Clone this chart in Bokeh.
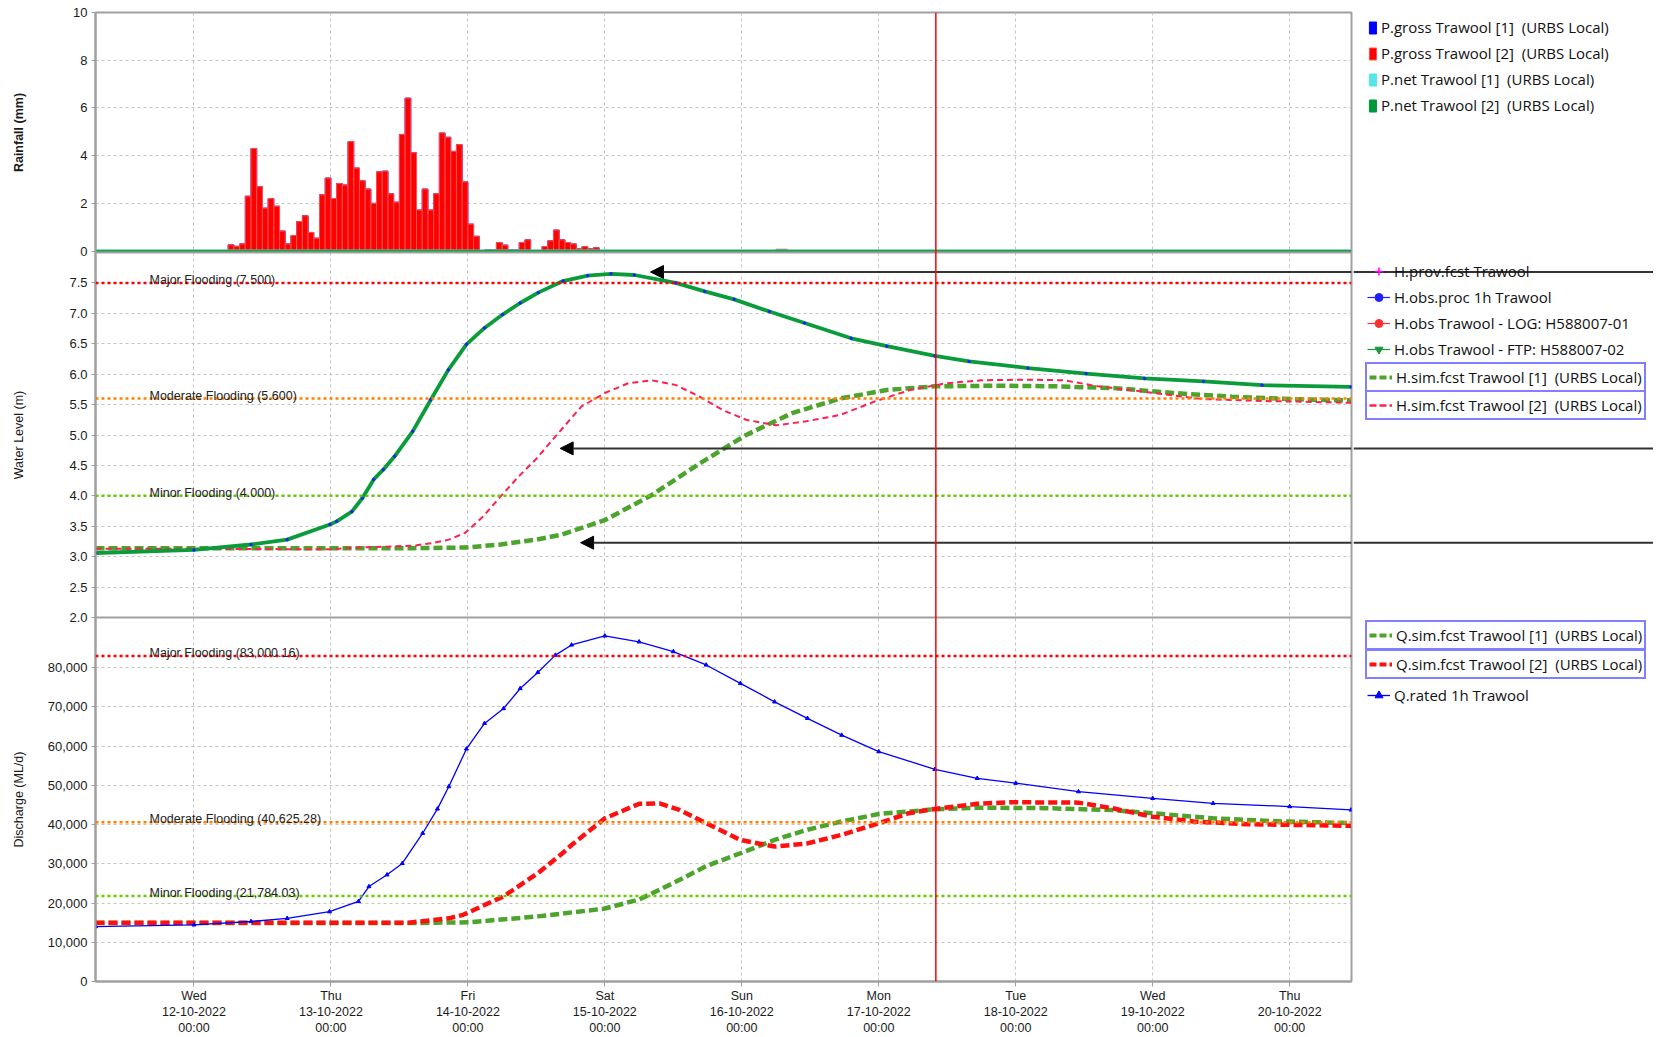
import math
import pandas as pd
from bokeh.plotting import figure
from bokeh.core.properties import value
from bokeh.models import (ColumnDataSource, Range1d, FixedTicker, Span, Label, Legend, LegendItem,
                          Arrow, NormalHead)
from bokeh.layouts import row
from bokeh.embed import file_html
from bokeh.resources import INLINE

# ---------------------------------------------------------------- data
x_start_time = "2022-10-11 06:45"
x_end_time = "2022-10-20 10:50"
now_time = "2022-10-17 10:00"

day_ticks = ["2022-10-12", "2022-10-13", "2022-10-14", "2022-10-15", "2022-10-16",
             "2022-10-17", "2022-10-18", "2022-10-19", "2022-10-20"]
day_tick_labels = ["Wed\n12-10-2022\n00:00", "Thu\n13-10-2022\n00:00", "Fri\n14-10-2022\n00:00",
                   "Sat\n15-10-2022\n00:00", "Sun\n16-10-2022\n00:00", "Mon\n17-10-2022\n00:00",
                   "Tue\n18-10-2022\n00:00", "Wed\n19-10-2022\n00:00", "Thu\n20-10-2022\n00:00"]

axis_titles = ["Rainfall (mm)", "Water Level (m)", "Discharge (ML/d)"]
rain_ticks = [0, 2, 4, 6, 8, 10]
wl_ticks = [2.0, 2.5, 3.0, 3.5, 4.0, 4.5, 5.0, 5.5, 6.0, 6.5, 7.0, 7.5]
q_ticks = [0, 10000, 20000, 30000, 40000, 50000, 60000, 70000, 80000]
rain_lim = (-0.06, 10.0)
wl_lim = (2.0, 8.0)
q_lim = (0.0, 92800.0)

# hourly rainfall (mm) starting 12-10-2022 06:00
rain_first_hour = "2022-10-12 06:00"
rain_mm = [0.26, 0.2, 0.3, 2.3, 4.3, 2.7, 1.8, 2.2, 1.88, 0.84, 0.3, 0.65, 1.24, 1.48, 0.78, 0.54, 2.36, 3.06,
           2.2, 2.83, 2.77, 4.59, 3.48, 2.95, 2.6, 2.0, 3.32, 3.35, 2.4, 2.05, 4.89, 6.41, 4.12, 1.72, 2.6, 1.72,
           2.4, 4.95, 4.77, 4.18, 4.46, 2.9,
           1.13, 0.62, 0.0, 0.05, 0.05, 0.36, 0.25, 0.05, 0.05, 0.36, 0.47, 0.0, 0.0, 0.19, 0.43, 0.88, 0.47,
           0.36, 0.3, 0.1, 0.19, 0.1, 0.14]
rain_late_hours = ["2022-10-16 06:00", "2022-10-16 07:00"]
rain_late_mm = [0.07, 0.07]
pnet_time = [x_start_time, x_end_time]
pnet_mm = [0.0, 0.0]

# water level observed (m)
h_obs_time = ["2022-10-11 06:45", "2022-10-12 00:00", "2022-10-12 10:00", "2022-10-12 16:20", "2022-10-12 23:50",
              "2022-10-13 01:00", "2022-10-13 03:40", "2022-10-13 05:30", "2022-10-13 07:30", "2022-10-13 09:10",
              "2022-10-13 11:10", "2022-10-13 14:20", "2022-10-13 17:30", "2022-10-13 20:35", "2022-10-13 23:45",
              "2022-10-14 02:55", "2022-10-14 06:05", "2022-10-14 09:10", "2022-10-14 12:20", "2022-10-14 16:40",
              "2022-10-14 21:00", "2022-10-15 01:05", "2022-10-15 05:10", "2022-10-15 12:25", "2022-10-15 17:30",
              "2022-10-15 22:40", "2022-10-16 04:50", "2022-10-16 11:00", "2022-10-16 19:10", "2022-10-17 01:25",
              "2022-10-17 09:50", "2022-10-17 15:50", "2022-10-18 02:10", "2022-10-18 12:20", "2022-10-18 22:35",
              "2022-10-19 08:55", "2022-10-19 19:10", "2022-10-20 10:45"]
h_obs_m = [3.06, 3.11, 3.20, 3.28, 3.53, 3.58, 3.74, 3.96, 4.27, 4.43, 4.65, 5.06, 5.58, 6.07, 6.49,
           6.76, 6.98, 7.17, 7.34, 7.53, 7.62, 7.65, 7.63, 7.50, 7.36, 7.23, 7.03, 6.84, 6.59, 6.46,
           6.30, 6.21, 6.10, 6.01, 5.93, 5.88, 5.82, 5.79]

# water level simulated [2] (m)
h_sim2_time = ["2022-10-11 06:45", "2022-10-12 00:00", "2022-10-12 23:45", "2022-10-13 04:50", "2022-10-13 14:25",
               "2022-10-13 17:30", "2022-10-13 20:40", "2022-10-13 23:30", "2022-10-14 02:40", "2022-10-14 05:45",
               "2022-10-14 08:55", "2022-10-14 12:00", "2022-10-14 15:50", "2022-10-14 19:55", "2022-10-15 00:00",
               "2022-10-15 04:05", "2022-10-15 08:10", "2022-10-15 12:30", "2022-10-15 16:35", "2022-10-15 20:40",
               "2022-10-16 00:45", "2022-10-16 06:00", "2022-10-16 11:00", "2022-10-16 17:15", "2022-10-16 23:15",
               "2022-10-17 05:30", "2022-10-17 11:45", "2022-10-17 18:00", "2022-10-18 02:10", "2022-10-18 08:25",
               "2022-10-18 14:25", "2022-10-18 22:35", "2022-10-19 08:55", "2022-10-19 19:10", "2022-10-20 10:45"]
h_sim2_m = [3.13, 3.13, 3.12, 3.15, 3.18, 3.22, 3.28, 3.39, 3.66, 3.99, 4.32, 4.61, 5.03, 5.47, 5.69,
            5.85, 5.90, 5.82, 5.63, 5.41, 5.25, 5.16, 5.22, 5.33, 5.55, 5.74, 5.85, 5.90, 5.91, 5.90,
            5.80, 5.71, 5.59, 5.56, 5.53]

# water level simulated [1] (m)
h_sim1_time = ["2022-10-11 06:45", "2022-10-13 14:25", "2022-10-13 23:30", "2022-10-14 05:45", "2022-10-14 12:00",
               "2022-10-14 16:20", "2022-10-15 00:00", "2022-10-15 08:10", "2022-10-15 16:35", "2022-10-16 00:45",
               "2022-10-16 08:50", "2022-10-16 17:15", "2022-10-17 01:25", "2022-10-17 09:50", "2022-10-17 20:50",
               "2022-10-18 07:10", "2022-10-18 17:30", "2022-10-19 03:35", "2022-10-19 13:55", "2022-10-20 00:15",
               "2022-10-20 10:45"]
h_sim1_m = [3.14, 3.14, 3.15, 3.20, 3.28, 3.36, 3.60, 4.01, 4.53, 5.00, 5.36, 5.60, 5.74, 5.80, 5.81,
            5.80, 5.77, 5.69, 5.63, 5.59, 5.57]

# discharge rated (ML/d)
q_rated_time = ["2022-10-11 06:45", "2022-10-12 00:00", "2022-10-12 10:00", "2022-10-12 16:20", "2022-10-12 23:45",
                "2022-10-13 04:50", "2022-10-13 06:40", "2022-10-13 09:50", "2022-10-13 12:30", "2022-10-13 16:05",
                "2022-10-13 18:40", "2022-10-13 20:40", "2022-10-13 23:45", "2022-10-14 02:55", "2022-10-14 06:15",
                "2022-10-14 09:10", "2022-10-14 12:15", "2022-10-14 15:20", "2022-10-14 18:10", "2022-10-15 00:00",
                "2022-10-15 06:00", "2022-10-15 12:00", "2022-10-15 17:45", "2022-10-15 23:45", "2022-10-16 05:45",
                "2022-10-16 11:30", "2022-10-16 17:30", "2022-10-17 00:00", "2022-10-17 09:50", "2022-10-17 17:15",
                "2022-10-18 00:00", "2022-10-18 11:00", "2022-10-19 00:00", "2022-10-19 10:35", "2022-10-20 00:00",
                "2022-10-20 10:45"]
q_rated = [14000, 14440, 15300, 16100, 17800, 20400, 24200, 27200, 30100, 37800, 44000, 49700, 59300,
           65800, 69600, 74700, 78800, 83200, 85800, 88100, 86600, 84100, 80700, 76000, 71300, 67100,
           62800, 58600, 54100, 51800, 50560, 48400, 46700, 45430, 44600, 43750]

# discharge simulated [2] (ML/d)
q_sim2_time = ["2022-10-11 06:45", "2022-10-13 13:40", "2022-10-13 20:40", "2022-10-13 23:10", "2022-10-14 06:15",
               "2022-10-14 12:15", "2022-10-14 16:35", "2022-10-14 18:10", "2022-10-15 00:00", "2022-10-15 06:00",
               "2022-10-15 09:35", "2022-10-15 13:05", "2022-10-15 17:45", "2022-10-15 23:45", "2022-10-16 05:45",
               "2022-10-16 11:30", "2022-10-16 17:30", "2022-10-17 00:00", "2022-10-17 05:15", "2022-10-17 09:50",
               "2022-10-17 17:15", "2022-10-17 23:00", "2022-10-18 11:00", "2022-10-18 16:50", "2022-10-19 00:00",
               "2022-10-19 07:10", "2022-10-19 16:35", "2022-10-20 10:45"]
q_sim2 = [15000, 15000, 16100, 17000, 21700, 27600, 32700, 34800, 41600, 45300, 45400, 43750, 40350,
          36100, 34400, 35200, 37400, 40350, 42900, 44000, 45300, 45700, 45600, 44200, 42000, 40800,
          40100, 39700]

# discharge simulated [1] (ML/d)
q_sim1_time = ["2022-10-11 06:45", "2022-10-13 13:40", "2022-10-14 00:15", "2022-10-14 12:15", "2022-10-15 00:00",
               "2022-10-15 06:00", "2022-10-15 12:00", "2022-10-15 17:45", "2022-10-15 23:45", "2022-10-16 05:45",
               "2022-10-16 11:30", "2022-10-16 17:30", "2022-10-17 00:00", "2022-10-17 09:50", "2022-10-17 17:15",
               "2022-10-18 05:00", "2022-10-18 16:50", "2022-10-19 00:00", "2022-10-19 10:35", "2022-10-19 22:35",
               "2022-10-20 10:45"]
q_sim1 = [14900, 14900, 15100, 16600, 18600, 20900, 25100, 29400, 32700, 36100, 38700, 40800, 42700,
          43900, 44300, 44200, 43700, 42900, 41600, 40800, 40400]

# flood thresholds
thr_names = ["Major Flooding", "Moderate Flooding", "Minor Flooding"]
thr_colors = ["#ff0000", "#ff8000", "#66cc00"]
wl_thr = [7.5, 5.6, 4.0]
wl_thr_text = ["7.500", "5.600", "4.000"]
q_thr = [83000.16, 40625.28, 21784.03]
q_thr_text = ["83,000.16", "40,625.28", "21,784.03"]

# annotation arrows on the water-level panel
arrow_tip_time = ["2022-10-15 08:00", "2022-10-14 16:10", "2022-10-14 19:45"]
arrow_tip_level = [7.68, 4.78, 3.23]

# ---------------------------------------------------------------- layout constants / helpers
HOUR = 3600000.0
NAN = float("nan")
FONT = "Liberation Sans"
LEG_FONT = "Open Sans"
FRAME_W = 1256
RAIN_H, WL_H, Q_H = 240, 365, 364
T = RAIN_H + WL_H + Q_H
TOP, BOTTOM = 12, 49
LAB_W, LEFT_B, RIGHT_B, LEG_W = 36, 59, 2, 300
GRID_C = "#c4c4c4"
EDGE_C = "#a0a0a0"


def ms(s):
    return pd.Timestamp(s).value / 1e6


def ms_list(lst):
    return [ms(s) for s in lst]


def stacked(lim, base, h):
    lo, hi = lim
    per = (hi - lo) / h
    return Range1d(lo - base * per, hi + (T - base - h) * per)


def to_px(v, lim, base, h):
    return base + (v - lim[0]) / (lim[1] - lim[0]) * h


def hide_grids(fig):
    for g in fig.grid:
        g.visible = False


px_range = Range1d(0, T)
rng_q = stacked(q_lim, 0, Q_H)
rng_wl = stacked(wl_lim, Q_H, WL_H)
rng_rain = stacked(rain_lim, Q_H + WL_H, RAIN_H)
tick_ms = ms_list(day_ticks)
x_range = Range1d(ms(x_start_time), ms(x_end_time))

# ---------------------------------------------------------------- main figure
p = figure(x_axis_type="datetime", frame_width=FRAME_W, frame_height=T, x_range=x_range, y_range=px_range,
           extra_y_ranges={"rain": rng_rain, "wl": rng_wl, "q": rng_q}, output_backend="svg",
           toolbar_location=None, tools="", min_border_left=LEFT_B, min_border_right=RIGHT_B,
           min_border_top=TOP, min_border_bottom=BOTTOM)
p.outline_line_color = EDGE_C
p.outline_line_width = 2
p.background_fill_color = "white"
p.border_fill_color = "white"

# left axis: ticks of the three stacked panels
y_ticks, y_over = [], {}
for v in q_ticks:
    t = to_px(v, q_lim, 0, Q_H)
    y_ticks.append(t)
    y_over[t] = f"{v:,}"
for v in wl_ticks:
    t = to_px(v, wl_lim, Q_H, WL_H)
    y_ticks.append(t)
    y_over[t] = f"{v:.1f}"
for v in rain_ticks:
    t = to_px(v, rain_lim, Q_H + WL_H, RAIN_H)
    y_ticks.append(t)
    y_over[t] = f"{v:g}"

ya = p.yaxis[0]
ya.ticker = FixedTicker(ticks=y_ticks)
ya.major_label_overrides = y_over
xa = p.xaxis[0]
xa.ticker = FixedTicker(ticks=tick_ms)
xa.major_label_overrides = {t: lab for t, lab in zip(tick_ms, day_tick_labels)}
for ax in (xa, ya):
    ax.axis_line_color = EDGE_C
    ax.axis_line_width = 2
    ax.major_tick_line_color = EDGE_C
    ax.major_tick_in = 0
    ax.minor_tick_line_color = None
    ax.major_label_text_font = FONT
    ax.major_label_text_color = "#1a1a1a"
ya.major_tick_out = 4
ya.major_label_standoff = 4
ya.major_label_text_font_size = "13px"
xa.major_tick_out = 5
xa.major_label_standoff = 2
xa.major_label_text_font_size = "12.5px"
xa.major_label_text_line_height = 1.15

p.xgrid.ticker = FixedTicker(ticks=tick_ms)
p.ygrid.ticker = FixedTicker(ticks=y_ticks)
for g in (p.xgrid, p.ygrid):
    g.grid_line_color = GRID_C
    g.grid_line_dash = "3 3"
    g.grid_line_width = 1

# ---- rainfall panel
rain_x = [ms(rain_first_hour) + (i + 0.5) * HOUR for i in range(len(rain_mm))] + \
         [ms(t) + 0.5 * HOUR for t in rain_late_hours]
rain_src = ColumnDataSource(dict(x=rain_x, top=rain_mm + rain_late_mm))
pnet_src = ColumnDataSource(dict(x=ms_list(pnet_time), top=pnet_mm))
p.vbar(x="x", top="top", bottom=0, width=HOUR, source=rain_src, y_range_name="rain",
       fill_color="#0000ff", line_color="#0000ff")
p.vbar(x="x", top="top", bottom=0, width=HOUR, source=rain_src, y_range_name="rain",
       fill_color="#ff0000", line_color="#ff5050", line_width=1)
p.line(x="x", y="top", source=pnet_src, y_range_name="rain", line_color="#55e6e6", line_width=3)
p.line(x="x", y="top", source=pnet_src, y_range_name="rain", line_color="#1f9d48", line_width=2.5)

# ---- water level panel
for name, val, txt, col in zip(thr_names, wl_thr, wl_thr_text, thr_colors):
    p.add_layout(Span(location=val, dimension="width", y_range_name="wl", line_color=col,
                      line_width=2.5, line_dash="3 3"))
    p.add_layout(Label(x=ms(x_start_time), y=val, y_range_name="wl", x_offset=54, y_offset=3,
                       text=f"{name}  ({txt})", text_font=FONT, text_font_size="12.5px",
                       text_color="#222222", text_baseline="alphabetic"))

hs1 = ColumnDataSource(dict(x=ms_list(h_sim1_time), y=h_sim1_m))
hs2 = ColumnDataSource(dict(x=ms_list(h_sim2_time), y=h_sim2_m))
hob = ColumnDataSource(dict(x=ms_list(h_obs_time), y=h_obs_m))
p.line("x", "y", source=hs1, y_range_name="wl", line_color="#4ca42c", line_width=4.5, line_dash="9 4")
p.line("x", "y", source=hs2, y_range_name="wl", line_color="#ff2050", line_width=2, line_dash="6 4")
p.line("x", "y", source=hob, y_range_name="wl", line_color="#0a9b3a", line_width=3.8)
p.scatter("x", "y", source=hob, y_range_name="wl", marker="circle", size=2.5, color="#2020ff")

for t, lvl in zip(arrow_tip_time, arrow_tip_level):
    p.add_layout(Arrow(end=NormalHead(size=13, fill_color="black", line_color="black"),
                       x_start=ms(x_end_time), y_start=lvl, x_end=ms(t), y_end=lvl, y_range_name="wl",
                       line_color="#333333", line_width=2))

# ---- discharge panel
for name, val, txt, col in zip(thr_names, q_thr, q_thr_text, thr_colors):
    p.add_layout(Span(location=val, dimension="width", y_range_name="q", line_color=col,
                      line_width=2.5, line_dash="3 3"))
    p.add_layout(Label(x=ms(x_start_time), y=val, y_range_name="q", x_offset=54, y_offset=3,
                       text=f"{name}  ({txt})", text_font=FONT, text_font_size="12.5px",
                       text_color="#222222", text_baseline="alphabetic"))

qs1 = ColumnDataSource(dict(x=ms_list(q_sim1_time), y=q_sim1))
qs2 = ColumnDataSource(dict(x=ms_list(q_sim2_time), y=q_sim2))
qr = ColumnDataSource(dict(x=ms_list(q_rated_time), y=q_rated))
p.line("x", "y", source=qs1, y_range_name="q", line_color="#4ca42c", line_width=4.5, line_dash="9 4")
p.line("x", "y", source=qs2, y_range_name="q", line_color="#ff1010", line_width=4.5, line_dash="9 4")
p.line("x", "y", source=qr, y_range_name="q", line_color="#0000ff", line_width=1.3)
p.scatter("x", "y", source=qr, y_range_name="q", marker="triangle", size=4, color="#0000ff")

# panel borders and current-time line
p.add_layout(Span(location=rain_lim[0], dimension="width", y_range_name="rain", line_color=EDGE_C, line_width=2))
p.add_layout(Span(location=wl_lim[0], dimension="width", y_range_name="wl", line_color=EDGE_C, line_width=2))
p.add_layout(Span(location=ms(now_time), dimension="height", line_color="#ff0000", line_width=1.5))

# ---------------------------------------------------------------- axis-title strip
lab = figure(frame_width=LAB_W, frame_height=T, x_range=Range1d(0, 1), y_range=px_range,
             x_axis_location=None, y_axis_location=None, output_backend="svg", toolbar_location=None,
             tools="", min_border_left=0, min_border_right=0, min_border_top=TOP, min_border_bottom=BOTTOM)
lab.outline_line_color = None
lab.background_fill_color = "white"
lab.border_fill_color = "white"
hide_grids(lab)
centers = [Q_H + WL_H + RAIN_H / 2, Q_H + WL_H / 2, Q_H / 2]
lab.text(x=[0.5], y=[centers[0]], text=[axis_titles[0]], angle=math.pi / 2, text_align="center",
         text_baseline="middle", text_font=value(FONT), text_font_size="12.5px", text_font_style="bold",
         text_color="#1a1a1a")
lab.text(x=[0.5, 0.5], y=centers[1:], text=axis_titles[1:], angle=math.pi / 2, text_align="center",
         text_baseline="middle", text_font=value(FONT), text_font_size="12.5px", text_color="#1a1a1a")

# ---------------------------------------------------------------- legend strip
lg = figure(frame_width=LEG_W, frame_height=T, x_range=Range1d(0, 1), y_range=px_range,
            extra_y_ranges={"wl": rng_wl}, x_axis_location=None, y_axis_location=None,
            output_backend="svg", toolbar_location=None, tools="", min_border_left=0, min_border_right=0,
            min_border_top=TOP, min_border_bottom=BOTTOM)
lg.outline_line_color = None
lg.background_fill_color = "white"
lg.border_fill_color = "white"
hide_grids(lg)
lg.segment(x0=[lg.x_range.start] * len(arrow_tip_level), x1=[lg.x_range.end] * len(arrow_tip_level),
           y0=arrow_tip_level, y1=arrow_tip_level, y_range_name="wl", line_color="#333333", line_width=2)

# legend swatches (renderers without visible points)
N = dict(x=[NAN], y=[NAN])
d_pg1 = lg.vbar(x=[NAN], top=[NAN], width=1, fill_color="#0000ff", line_color="#0000ff")
d_pg2 = lg.vbar(x=[NAN], top=[NAN], width=1, fill_color="#ff0000", line_color="#ff5050")
d_pn1 = lg.vbar(x=[NAN], top=[NAN], width=1, fill_color="#55e6e6", line_color="#55e6e6")
d_pn2 = lg.vbar(x=[NAN], top=[NAN], width=1, fill_color="#00963c", line_color="#00963c")
d_prov = lg.scatter(marker="cross", size=20, line_color="#ff00ff", line_width=1.5, **N)
d_proc = lg.line(line_color="#2020ff", line_width=1.2, **N)
d_proc_m = lg.scatter(marker="circle", size=2, color="#2020ff", **N)
d_log = lg.line(line_color="#ff3030", line_width=1.2, **N)
d_log_m = lg.scatter(marker="circle", size=2, color="#ff3030", **N)
d_ftp = lg.line(line_color="#1a9a3a", line_width=1.2, **N)
d_ftp_m = lg.scatter(marker="inverted_triangle", size=3, color="#1a9a3a", **N)
d_hs1 = lg.line(line_color="#4ca42c", line_width=4, line_dash="7 3", **N)
d_hs2 = lg.line(line_color="#ff2050", line_width=2.5, line_dash="7 3", **N)
d_qs1 = lg.line(line_color="#4ca42c", line_width=4, line_dash="7 3", **N)
d_qs2 = lg.line(line_color="#ff1010", line_width=4, line_dash="7 3", **N)
d_qr = lg.line(line_color="#0000ff", line_width=1.3, **N)
d_qr_m = lg.scatter(marker="triangle", size=3, color="#0000ff", **N)


def add_legend(items, loc, boxed=False, glyph_w=23, glyph_h=None):
    L = Legend(items=[LegendItem(label=t, renderers=r) for t, r in items], location=loc)
    L.label_text_font = LEG_FONT
    L.label_text_font_size = "15px"
    L.label_text_color = "#111111"
    L.margin = 0
    L.spacing = 6
    L.label_standoff = 4
    L.glyph_width = glyph_w
    L.glyph_height = glyph_h if glyph_h else (22 if boxed else 20)
    L.label_height = 22 if boxed else 20
    if boxed:
        L.padding = 2
        L.border_line_color = "#0000ff"
        L.border_line_width = 2
        L.background_fill_color = "white"
        L.background_fill_alpha = 1
    else:
        L.padding = 0
        L.border_line_alpha = 0
        L.background_fill_alpha = 0
    lg.add_layout(L)
    return L


# legend positions: (px from strip-frame left, px from strip-frame bottom)
add_legend([("P.gross Trawool [1]  (URBS Local)", [d_pg1]),
            ("P.gross Trawool [2]  (URBS Local)", [d_pg2]),
            ("P.net Trawool [1]  (URBS Local)", [d_pn1]),
            ("P.net Trawool [2]  (URBS Local)", [d_pn2])], (15, 866), glyph_w=9, glyph_h=15)
add_legend([("H.prov.fcst Trawool", [d_prov]),
            ("H.obs.proc 1h Trawool", [d_proc, d_proc_m]),
            ("H.obs Trawool - LOG: H588007-01", [d_log, d_log_m]),
            ("H.obs Trawool - FTP: H588007-02", [d_ftp, d_ftp_m])], (14, 622))
add_legend([("H.sim.fcst Trawool [1]  (URBS Local)", [d_hs1])], (12, 589), boxed=True)
add_legend([("H.sim.fcst Trawool [2]  (URBS Local)", [d_hs2])], (12, 561), boxed=True)
add_legend([("Q.sim.fcst Trawool [1]  (URBS Local)", [d_qs1])], (12, 331), boxed=True)
add_legend([("Q.sim.fcst Trawool [2]  (URBS Local)", [d_qs2])], (12, 302), boxed=True)
add_legend([("Q.rated 1h Trawool", [d_qr, d_qr_m])], (14, 276))

layout = row(lab, p, lg, spacing=0)
open("out.html", "w").write(file_html(layout, INLINE))
